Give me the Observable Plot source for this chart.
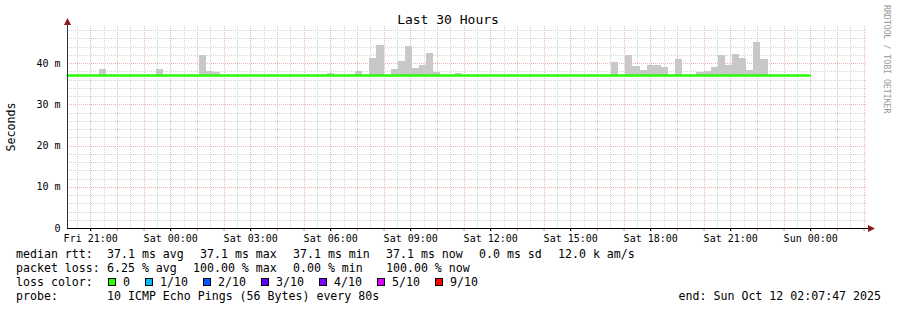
<!DOCTYPE html>
<html>
<head>
<meta charset="utf-8">
<script src="https://cdn.jsdelivr.net/npm/d3@7"></script>
<script src="https://cdn.jsdelivr.net/npm/@observablehq/plot@0.6"></script>
<style>
  html, body { margin: 0; padding: 0; background: #ffffff; }
  svg text { font-family: "DejaVu Sans Mono", monospace; }
</style>
</head>
<body>
<div id="chart"></div>
<script>
// ---- data ----
const rangeStart = "2025-10-10T20:07:47Z";
const rangeEnd = "2025-10-12T02:07:47Z";

// median rtt (ms)
const medianTimes = ["2025-10-10T20:07:47Z", "2025-10-11T23:58:00Z"];
const medianValues = [37.1, 37.1];

// smoke (ping spread) bins, 16 minute consolidation
const binMinutes = 16;
const smokeStart = [
  "2025-10-10T21:20Z", "2025-10-10T23:28Z",
  "2025-10-11T01:04Z", "2025-10-11T01:20Z", "2025-10-11T01:36Z",
  "2025-10-11T05:52Z", "2025-10-11T06:56Z", "2025-10-11T07:28Z", "2025-10-11T07:44Z",
  "2025-10-11T08:16Z", "2025-10-11T08:32Z", "2025-10-11T08:48Z", "2025-10-11T09:04Z",
  "2025-10-11T09:20Z", "2025-10-11T09:36Z", "2025-10-11T09:52Z", "2025-10-11T10:40Z",
  "2025-10-11T16:32Z", "2025-10-11T17:04Z", "2025-10-11T17:20Z", "2025-10-11T17:36Z",
  "2025-10-11T17:52Z", "2025-10-11T18:08Z", "2025-10-11T18:24Z", "2025-10-11T18:56Z",
  "2025-10-11T19:44Z", "2025-10-11T20:00Z", "2025-10-11T20:16Z", "2025-10-11T20:32Z",
  "2025-10-11T20:48Z", "2025-10-11T21:04Z", "2025-10-11T21:20Z", "2025-10-11T21:36Z",
  "2025-10-11T21:52Z", "2025-10-11T22:08Z"
];
const smokeTop = [
  38.5, 38.5,
  42.0, 38.1, 37.8,
  37.6, 38.1, 41.2, 44.4,
  38.5, 40.5, 44.1, 38.8,
  39.5, 42.4, 37.8, 37.6,
  40.2, 41.9, 39.3, 38.3,
  39.5, 39.5, 39.0, 41.0,
  37.8, 38.1, 39.0, 41.9,
  39.5, 42.2, 41.2, 38.3,
  45.1, 41.0
];

const yTicks = [0, 10, 20, 30, 40];

const lossLabels = ["0", "1/10", "2/10", "3/10", "4/10", "5/10", "9/10"];
const lossColors = ["#26ff00", "#00b8ff", "#0059ff", "#5e00ff", "#7e00ff", "#dd00ff", "#ff0000"];

const medianLegend = ["37.1 ms avg", "37.1 ms max", "37.1 ms min", "37.1 ms now", "0.0 ms sd", "12.0 k am/s"];
const lossLegend = ["6.25 % avg", "100.00 % max", "0.00 % min", "100.00 % now"];
const probeText = "10 ICMP Echo Pings (56 Bytes) every 80s";
const endText = "end: Sun Oct 12 02:07:47 2025";
const titleText = "Last 30 Hours";
const yLabel = "Seconds";
const watermark = "RRDTOOL / TOBI OETIKER";

// ---- build ----
const t0 = new Date(rangeStart), t1 = new Date(rangeEnd);
const median = medianTimes.map((t, i) => ({t: new Date(t), v: medianValues[i]}));
const smoke = smokeStart.map((s, i) => {
  const a = new Date(s);
  return {x1: a, x2: new Date(+a + binMinutes * 60000), y1: medianValues[0], y2: smokeTop[i]};
});

const minorGray = "#d4d4d4";
const majorRed = "#f4b4b4";
const halfHours = d3.utcMinute.every(30).range(t0, t1).filter(d => d.getUTCMinutes() !== 0);
const hours = d3.utcHour.range(t0, t1);
const yMinor = d3.range(2, 49, 2).filter(v => v % 10 !== 0);
const yMajor = yTicks.filter(v => v > 0);

const W = 897, H = 310;
const mL = 67, mR = 30, mT = 26, mB = 82;

const plot = Plot.plot({
  width: W,
  height: H,
  marginLeft: mL,
  marginRight: mR,
  marginTop: mT,
  marginBottom: mB,
  style: {background: "#ffffff", fontFamily: "'DejaVu Sans Mono', monospace", fontSize: "10px", color: "#000", overflow: "visible"},
  x: {type: "utc", domain: [t0, t1]},
  y: {domain: [0, 49]},
  marks: [
    Plot.ruleX(halfHours, {stroke: minorGray, strokeDasharray: "1,1", shapeRendering: "crispEdges"}),
    Plot.ruleY(yMinor, {stroke: minorGray, strokeDasharray: "1,1", shapeRendering: "crispEdges"}),
    Plot.ruleX(hours, {stroke: majorRed, strokeDasharray: "1,1", shapeRendering: "crispEdges"}),
    Plot.ruleY(yMajor, {stroke: majorRed, strokeDasharray: "1,1", shapeRendering: "crispEdges"}),
    Plot.rect(smoke, {x1: "x1", x2: "x2", y1: "y1", y2: "y2", fill: "#c8c8c8", shapeRendering: "crispEdges"}),
    Plot.line(median, {x: "t", y: "v", stroke: lossColors[0], strokeWidth: 2.5}),
    Plot.axisX({ticks: d3.utcHour.every(1), tickFormat: () => "", tickSize: 3, tickPadding: 0, stroke: "#e08080", label: null}),
    Plot.axisX({ticks: d3.utcHour.every(3), tickFormat: d3.utcFormat("%a %H:%M"), tickSize: 3, tickPadding: 3, label: null, fill: "#000", stroke: "#000"}),
    Plot.axisY({ticks: yTicks, tickFormat: d => d === 0 ? "0" : `${d} m`, tickSize: 0, tickPadding: 7, label: null, fill: "#000"}),
    Plot.ruleY([0], {stroke: "#000", shapeRendering: "crispEdges"}),
    Plot.ruleX([t0], {stroke: "#333", shapeRendering: "crispEdges"})
  ]
});

document.getElementById("chart").appendChild(plot);

const svg = d3.select(plot);
const x0 = mL, yBase = H - mB;

// axis extensions and arrows
svg.append("line").attr("x1", x0).attr("x2", W - mR + 4).attr("y1", yBase + 0.5).attr("y2", yBase + 0.5)
  .attr("stroke", "#000").attr("shape-rendering", "crispEdges");
svg.append("line").attr("x1", x0 + 0.5).attr("x2", x0 + 0.5).attr("y1", yBase).attr("y2", mT - 4)
  .attr("stroke", "#333").attr("shape-rendering", "crispEdges");
svg.append("path").attr("d", `M${W - mR + 1},${yBase - 3} L${W - mR + 8},${yBase + 0.5} L${W - mR + 1},${yBase + 4} Z`).attr("fill", "#8b1a1a");
svg.append("path").attr("d", `M${x0 - 3},${mT - 1} L${x0 + 0.5},${mT - 8} L${x0 + 4},${mT - 1} Z`).attr("fill", "#8b1a1a");

// title
svg.append("text").attr("x", 448).attr("y", 24).attr("text-anchor", "middle")
  .attr("font-size", "13px").attr("fill", "#000").text(titleText);

// y label
svg.append("text").attr("transform", `translate(14.5,127) rotate(-90)`).attr("text-anchor", "middle")
  .attr("font-size", "11.6px").attr("fill", "#000").text(yLabel);

// watermark
svg.append("text").attr("transform", `translate(884,5) rotate(90)`).attr("text-anchor", "start")
  .attr("font-size", "8.2px").attr("fill", "#999999").text(watermark);

// legend
const fs = "11.6px";
function txt(x, y, s, anchor = "start") {
  svg.append("text").attr("x", x).attr("y", y).attr("font-size", fs).attr("fill", "#000")
    .attr("text-anchor", anchor).attr("xml:space", "preserve").style("white-space", "pre").text(s);
}
const rows = [258, 272, 286, 300];
txt(16, rows[0], "median rtt:");
[107, 200, 293, 386, 479, 558].forEach((x, i) => txt(x, rows[0], medianLegend[i]));
txt(16, rows[1], "packet loss:");
[107, 193, 293, 386].forEach((x, i) => txt(x, rows[1], lossLegend[i]));
txt(16, rows[2], "loss color:");
let lx = 108;
lossLabels.forEach((lab, i) => {
  svg.append("rect").attr("x", lx + 0.5).attr("y", rows[2] - 7.5).attr("width", 7).attr("height", 7)
    .attr("fill", lossColors[i]).attr("stroke", "#000").attr("stroke-width", 1);
  txt(lx + 15, rows[2], lab);
  lx = lx + 15 + lab.length * 7 + 15;
});
txt(16, rows[3], "probe:");
txt(107, rows[3], probeText);
txt(881, rows[3], endText, "end");
</script>
</body>
</html>
